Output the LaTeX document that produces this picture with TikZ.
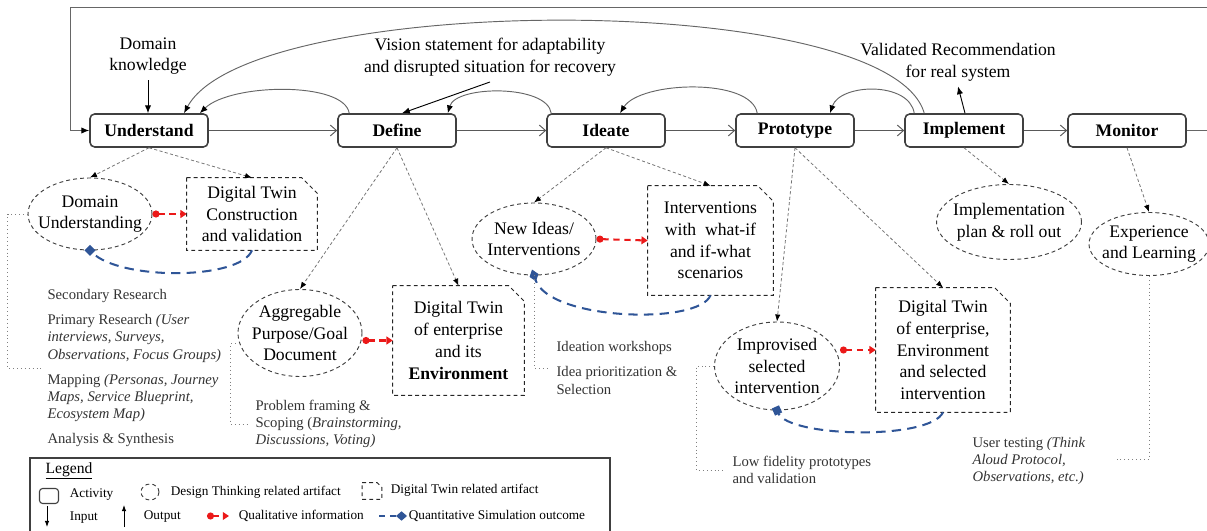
\documentclass[tikz,border=0pt]{standalone}
\usepackage{fontspec}
\setmainfont{Liberation Serif}
\usetikzlibrary{arrows.meta,shapes.geometric,calc}
\definecolor{qred}{RGB}{235,25,25}
\definecolor{qblue}{RGB}{47,85,151}
\tikzset{
  wh/.style 2 args={minimum width=#1*0.0225cm, minimum height=#2*0.0225cm},
  activity/.style={draw=black!75, line width=1pt, rounded corners=3pt,
    wh={118}{33}, font=\fontsize{11.3}{13.9}\selectfont\bfseries},
  dtell/.style={ellipse, draw=black!75, dash pattern=on 2.5pt off 2pt,
    line width=0.6pt, inner sep=-40pt, align=center},
  dtbox/.style={rectangle, inner sep=0pt, align=center},
  dtline/.style={draw=black!85, dash pattern=on 2.5pt off 2pt, line width=0.6pt},
  notes/.style={anchor=west, align=left, inner xsep=4pt,
    font=\fontsize{9.4}{11}\selectfont, text=black!80},
  legtxt/.style={anchor=west, inner sep=1pt, font=\fontsize{8.5}{10}\selectfont},
  flow/.style={draw=black!65, line width=0.6pt, -{Straight Barb[length=4pt,width=7pt]}},
  back/.style={draw=black!60, line width=0.6pt, -{Latex[length=5pt,width=4pt,color=black]}},
  link/.style={draw=black!55, line width=0.5pt, dash pattern=on 2pt off 1.5pt,
    -{Latex[length=4.5pt,width=3.5pt,color=black]}},
  inout/.style={draw=black, line width=0.6pt, -{Latex[length=5pt,width=4pt]}},
  qual/.style={qred, line width=1.3pt, dash pattern=on 4pt off 3pt,
    {Circle[length=4.5pt]}-{Triangle[length=4pt,width=5pt]}},
  quant/.style={qblue, line width=1.3pt, dash pattern=on 6pt off 4pt},
  note/.style={draw=black!50, line width=0.5pt, dotted}
}
\begin{document}
\begin{tikzpicture}[x=0.0225cm, y=-0.0225cm, font=\fontsize{11.3}{13.9}\selectfont]
  \useasboundingbox (0,0) rectangle (1207,531);

  \node[activity] (und) at (149,130.5) {Understand};
  \node[activity] (def) at (397,130.5) {Define};
  \node[activity] (ide) at (606,130.5) {Ideate};
  \node[activity] (pro) at (795,130.5) {Prototype};
  \node[activity] (impl) at (964,130.5) {Implement};
  \node[activity] (mon) at (1127,130.5) {Monitor};

  \node[align=center] (dk) at (148,56) {Domain\\knowledge};
  \node[align=center] (vs) at (490,57.5) {Vision statement for adaptability\\and disrupted situation for recovery};
  \node[align=center] (vr) at (958,62) {Validated Recommendation\\for real system};

  \node[dtell, wh={124}{72}] (du) at (90,214) {Domain\\Understanding};
  \node[dtbox, wh={130}{72}] (dtc) at (252,214) {Digital Twin\\Construction\\and validation};
  \node[dtell, wh={124}{87}] (agg) at (300,333) {Aggregable\\Purpose/Goal\\Document};
  \node[dtbox, wh={131}{109}] (dte) at (458.5,340.5) {Digital Twin\\of enterprise\\and its\\\textbf{Environment}};
  \node[dtell, wh={124}{72}] (ni) at (534,239) {New Ideas/\\Interventions};
  \node[dtbox, wh={125}{109}] (iw) at (710.5,240.5) {Interventions\\with~ what-if\\and if-what\\scenarios};
  \node[dtell, wh={125}{88}] (imv) at (777,366) {Improvised\\selected\\intervention};
  \node[dtbox, wh={134}{124}] (dts) at (943,350) {Digital Twin\\of enterprise,\\Environment\\and selected\\intervention};
  \node[dtell, wh={145}{75}] (ipl) at (1009,222) {Implementation\\plan \& roll out};
  \node[dtell, wh={120}{63}] (exl) at (1149,244) {Experience\\and Learning};
  \foreach \n in {dtc, dte, iw, dts}
    \draw[dtline] (\n.north west) -- ([xshift=-10pt]\n.north east) -- ([yshift=-10pt]\n.north east)
      -- (\n.south east) -- (\n.south west) -- cycle;

  \node[notes] (dun) at (41,368) {Secondary Research\\[5pt]
    Primary Research \textit{(User}\\ \textit{interviews, Surveys,}\\
    \textit{Observations, Focus Groups)}\\[5pt]
    Mapping \textit{(Personas, Journey}\\ \textit{Maps, Service Blueprint,}\\
    \textit{Ecosystem Map)}\\[5pt] Analysis \& Synthesis};
  \node[notes] (aggn) at (249,424) {Problem framing \&\\ Scoping (\textit{Brainstorming,}\\ \textit{Discussions, Voting)}};
  \node[notes] (nin) at (550,368) {Ideation workshops\\[5pt] Idea prioritization \&\\ Selection};
  \node[notes] (imvn) at (726,470) {Low fidelity prototypes\\ and validation};
  \node[notes] (exn) at (966,461) {User testing \textit{(Think}\\ \textit{Aloud Protocol,}\\ \textit{Observations, etc.)}};
  \coordinate (exend) at (1115,459);

  \coordinate (loopr) at (1220,7);
  \coordinate (loopl) at (70,7);

  \foreach \a/\b in {und/def, def/ide, ide/pro, pro/impl, impl/mon}
    \draw[flow] (\a) -- (\b);
  \draw[back] (mon.east) -| (loopr) -- (loopl) |- (und.west);

  \draw[back] ($(def.north west)+(12,0)$) .. controls +(-5,-32) and +(31,-30) .. ($(und.north east)+(-9,0)$);
  \draw[back] ($(ide.north west)+(5,0)$) .. controls +(-4,-29) and +(8,-28) .. ($(def.north east)+(-9,0)$);
  \draw[back] ($(pro.north west)+(22,0)$) .. controls +(-6,-36) and +(20,-32) .. ($(ide.north)+(14,0)$);
  \draw[back] ($(impl.north west)+(10,0)$) .. controls +(-5,-32) and +(10,-30) .. ($(pro.north)+(35,0)$);
  \draw[back] ($(impl.north west)+(20,0)$) .. controls +(-35,-124) and +(66,-122) .. ($(und.north)+(35,0)$);

  \draw[inout] (dk.south) -- (dk.south |- und.north);
  \draw[inout] (vs.south) -- ($(def.north)+(5,0)$);
  \draw[inout] ($(impl.north)+(1,0)$) -- (vr.south);

  \draw[link] (und.south) -- (du.north);
  \draw[link] (und.south) -- (dtc.north);
  \draw[link] (def.south) -- (agg.north);
  \draw[link] (def.south) -- (dte.north);
  \draw[link] (ide.south) -- (ni.north);
  \draw[link] (ide.south) -- (iw.north);
  \draw[link] (pro.south) -- (imv.north);
  \draw[link] (pro.south) -- (dts.north);
  \draw[link] (impl.south) -- (ipl.north);
  \draw[link] (mon.south) -- (exl.north);

  \draw[qual] (du.east) -- (dtc.west);
  \draw[qual] (agg.east |- dte.west) -- (dte.west);
  \draw[qual] (ni.east) -- (iw.west);
  \draw[qual] (imv.east |- dts.west) -- (dts.west);

  \draw[quant, -{Square[length=5pt,width=5pt]}, shorten >=-2.5pt] (dtc.south) .. controls +(-12,30) and +(30,30) .. (du.south);
  \draw[quant, -{Diamond[length=8pt,width=6pt]}, shorten >=-4pt] (iw.south) .. controls +(-12,30) and +(15,45) .. (ni.south);
  \draw[quant, -{Square[length=5pt,width=5pt]}, shorten >=-2.5pt] (dts.south) .. controls +(-13,28) and +(12,27) .. (imv.south);

  \draw[note] (du.west) -- ++(-20,0) |- (dun.west);
  \draw[note] (agg.190) -- ++(-9,0) |- (aggn.west);
  \draw[note] (ni.south) |- (nin.west);
  \draw[note] (imv.west) -- ++(-18,0) |- (imvn.west);
  \draw[note] (exl.south) |- (exend);

  \draw[draw=black!75, line width=0.8pt] (30,458) rectangle (610,545);
  \node[inner sep=1pt, font=\fontsize{10}{12}\selectfont] (lg) at (69,471) {\underline{Legend}};
  \node[activity, wh={19}{15}, line width=0.7pt, rounded corners=2pt] (lgact) at (49,496) {};
  \node[legtxt] (lgacttxt) at (68,495) {Activity};
  \node[dtell, wh={18}{16}] (lgdt) at (150,492) {};
  \node[legtxt] (lgdttxt) at (169,492) {Design Thinking related artifact};
  \node[dtbox, wh={19}{16}] (lgtw) at (372,491) {};
  \draw[dtline] (lgtw.north west) -- ([xshift=-3pt]lgtw.north east) -- ([yshift=-3pt]lgtw.north east)
    -- (lgtw.south east) -- (lgtw.south west) -- cycle;
  \node[legtxt] (lgtwtxt) at (389,490) {Digital Twin related artifact};
  \coordinate (lgin) at (47,506);
  \coordinate (lgout) at (124,527);
  \coordinate (lgql) at (207,516);
  \coordinate (lgqn) at (379,516);
  \draw[inout, -{Latex[length=4pt,width=3pt]}] (lgin) -- ++(0,21);
  \node[legtxt] (lgintxt) at (68,518) {Input};
  \draw[inout, -{Latex[length=4pt,width=3pt]}] (lgout) -- ++(0,-22);
  \node[legtxt] (lgouttxt) at (142,517) {Output};
  \draw[qual, line width=1.1pt] (lgql) -- ++(22,0);
  \node[legtxt] (lgqltxt) at (237,516) {Qualitative information};
  \draw[quant, line width=1.1pt, dash pattern=on 4pt off 3pt, -{Diamond[length=7pt,width=6pt]}] (lgqn) -- ++(28,0);
  \node[legtxt] (lgqntxt) at (407,516) {Quantitative Simulation outcome};
\end{tikzpicture}
\end{document}
